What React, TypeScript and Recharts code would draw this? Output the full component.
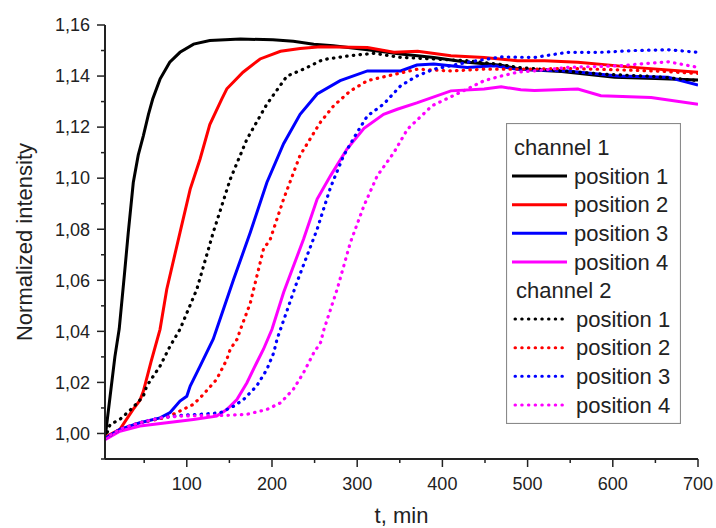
import { LineChart, Line, XAxis, YAxis, Legend } from 'recharts';

const FONT = '"Liberation Sans", Arial, sans-serif';
const INK = '#222';

// ticks (minor ones have no label)
const X_TICKS = [50, 100, 150, 200, 250, 300, 350, 400, 450, 500, 550, 600, 650, 700];
const Y_TICKS = [
  0.99, 1.0, 1.01, 1.02, 1.03, 1.04, 1.05, 1.06, 1.07, 1.08, 1.09,
  1.1, 1.11, 1.12, 1.13, 1.14, 1.15, 1.16,
];

// channel 1 (solid), [t in min, normalized intensity]
const ch1Pos1 = [
  [4, 0.998], [10, 1.0146], [15.6, 1.03], [20.7, 1.041], [27, 1.063], [31.3, 1.0787],
  [37.2, 1.0983], [43, 1.109], [49, 1.1166], [55, 1.125], [60, 1.131], [68.6, 1.1388],
  [80, 1.1454], [92, 1.1493], [108, 1.1525], [127, 1.1539], [163, 1.1545], [201, 1.1542],
  [225, 1.1536], [249, 1.1525], [272, 1.1519], [312, 1.1503], [351, 1.1486], [390, 1.1473],
  [429, 1.1454], [469, 1.1442], [492, 1.1427], [540, 1.1418], [602, 1.1395], [650, 1.139],
  [700, 1.1385],
];
const ch1Pos2 = [
  [4, 0.9985], [21.5, 1.0016], [37, 1.0094], [45, 1.013], [49, 1.0165], [58, 1.028],
  [68.6, 1.0408], [76.5, 1.0565], [92, 1.0787], [104, 1.0957], [115.6, 1.1075], [127, 1.121],
  [141, 1.131], [147, 1.135], [166, 1.1415], [186, 1.1467], [210, 1.1497], [233, 1.1508],
  [257, 1.1515], [312, 1.1512], [343, 1.1493], [371, 1.1497], [410, 1.148], [449, 1.1473],
  [488, 1.146], [520, 1.146], [559, 1.1454], [625, 1.1434], [700, 1.1415],
];
const ch1Pos3 = [
  [4, 0.998], [21.5, 1.0016], [45, 1.0042], [68.6, 1.0061], [80.4, 1.0082], [92, 1.0127],
  [100, 1.0146], [104, 1.0186], [115.6, 1.0264], [127, 1.0342], [131, 1.0369], [135, 1.0408],
  [155, 1.0604], [174.5, 1.0787], [194, 1.0983], [213.6, 1.1135], [233, 1.125], [253, 1.133],
  [280, 1.1382], [312, 1.142], [351, 1.142], [370, 1.1443], [390, 1.1447], [429, 1.1434],
  [461, 1.144], [488, 1.1427], [547, 1.142], [606, 1.14], [665, 1.1395], [700, 1.1365],
];
const ch1Pos4 = [
  [4, 0.9976], [21.5, 1.0009], [45, 1.0029], [76.5, 1.0042], [107.8, 1.0055], [135, 1.0068],
  [147, 1.0094], [158.8, 1.0133], [170.6, 1.0199], [182, 1.0277], [190, 1.033], [200, 1.0408],
  [213.6, 1.0552], [237, 1.0761], [253, 1.0918], [268.6, 1.1009], [288, 1.1114], [308, 1.1195],
  [331, 1.125], [347, 1.127], [370, 1.1295], [410, 1.1342], [449, 1.1349], [469, 1.1358],
  [492, 1.1346], [508, 1.1343], [559, 1.1349], [586, 1.1323], [645, 1.1316], [700, 1.129],
];

// channel 2 (dotted)
const ch2Pos1 = [
  [4, 0.998], [10, 1.0035], [21.5, 1.0055], [37, 1.0102], [49, 1.0146], [53, 1.0186],
  [68.6, 1.0264], [80.4, 1.0342], [92, 1.0408], [111.8, 1.0565], [131, 1.0787], [151, 1.0996],
  [170.6, 1.1153], [194, 1.129], [217.6, 1.14], [237, 1.1427], [257, 1.146], [265, 1.1467],
  [292, 1.148], [320, 1.1489], [351, 1.1473], [390, 1.1467], [429, 1.146], [469, 1.1445],
  [488, 1.1434], [540, 1.142], [586, 1.1408], [650, 1.1398], [700, 1.1382],
];
const ch2Pos2 = [
  [4, 0.998], [21.5, 1.0016], [45, 1.0042], [76.5, 1.0063], [92, 1.0088], [107.8, 1.0114],
  [118, 1.0148], [135, 1.0212], [147, 1.029], [151, 1.033], [159, 1.0369], [163, 1.0408],
  [174.5, 1.051], [190, 1.0722], [198, 1.0761], [213.6, 1.0918], [233, 1.109], [257, 1.122],
  [272.5, 1.1284], [292, 1.1342], [312, 1.1382], [335, 1.14], [370.6, 1.1427], [410, 1.142],
  [449, 1.1427], [500, 1.1427], [547, 1.143], [600, 1.1425], [650, 1.142], [700, 1.141],
];
const ch2Pos3 = [
  [4, 0.998], [21.5, 1.0016], [45, 1.0042], [68.6, 1.0061], [92, 1.0071], [115.6, 1.0075],
  [139, 1.0081], [155, 1.0107], [166.6, 1.0133], [174.5, 1.016], [182, 1.0186], [194, 1.0251],
  [202, 1.0316], [206, 1.037], [229, 1.059], [253, 1.08], [268.6, 1.0963], [284, 1.1088],
  [300, 1.118], [312, 1.1244], [331, 1.129], [351, 1.1362], [370, 1.14], [390, 1.1427],
  [429, 1.1454], [469, 1.1475], [508, 1.1473], [547, 1.1493], [586, 1.1493], [625, 1.15],
  [665, 1.1503], [700, 1.1493],
];
const ch2Pos4 = [
  [4, 0.998], [21.5, 1.0016], [45, 1.0042], [68.6, 1.0061], [92, 1.0068], [115.6, 1.007],
  [147, 1.0071], [170.6, 1.0075], [194, 1.0094], [210, 1.012], [225, 1.0173], [237, 1.0238],
  [249, 1.0316], [257, 1.0356], [261, 1.0408], [276.5, 1.0565], [292, 1.0748], [307.8, 1.0891],
  [323.5, 1.1009], [343, 1.11], [359, 1.1192], [388, 1.1284], [429, 1.1349], [449, 1.1382],
  [469, 1.14], [488, 1.1415], [508, 1.142], [547, 1.1434], [606, 1.144], [665, 1.1456],
  [700, 1.1434],
];

const toRows = (pts: number[][]) => pts.map(([t, v]) => ({ t, v }));

const SERIES = [
  { key: 'c1p1', label: 'position 1', color: '#000000', dotted: false, data: ch1Pos1 },
  { key: 'c1p2', label: 'position 2', color: '#ff0000', dotted: false, data: ch1Pos2 },
  { key: 'c1p3', label: 'position 3', color: '#0000ff', dotted: false, data: ch1Pos3 },
  { key: 'c1p4', label: 'position 4', color: '#ff00ff', dotted: false, data: ch1Pos4 },
  { key: 'c2p1', label: 'position 1', color: '#000000', dotted: true, data: ch2Pos1 },
  { key: 'c2p2', label: 'position 2', color: '#ff0000', dotted: true, data: ch2Pos2 },
  { key: 'c2p3', label: 'position 3', color: '#0000ff', dotted: true, data: ch2Pos3 },
  { key: 'c2p4', label: 'position 4', color: '#ff00ff', dotted: true, data: ch2Pos4 },
];

const DOT_DASH = '0.5 6.2';

const XTick = ({ x, y, payload }: any) => {
  const major = payload.value % 100 === 0;
  return (
    <g>
      <line x1={x} x2={x} y1={y} y2={y + (major ? 8 : 4)} stroke={INK} strokeWidth={1.5} />
      {major && (
        <text x={x} y={y + 31} textAnchor="middle" fontSize={18} fontFamily={FONT} fill={INK}>
          {payload.value}
        </text>
      )}
    </g>
  );
};

const YTick = ({ x, y, payload }: any) => {
  const major = Math.round(payload.value * 100) % 2 === 0;
  return (
    <g>
      <line x1={x} x2={x - (major ? 8 : 4)} y1={y} y2={y} stroke={INK} strokeWidth={1.5} />
      {major && (
        <text x={x - 15} y={y} dy="0.35em" textAnchor="end" fontSize={18} fontFamily={FONT} fill={INK}>
          {payload.value.toFixed(2).replace('.', ',')}
        </text>
      )}
    </g>
  );
};

const LegendBox = () => {
  const rowY = (i: number) => 24.5 + i * 28.6;
  const rows: any[] = [];
  let i = 0;
  ['channel 1', 'channel 2'].forEach((ch, c) => {
    rows.push(
      <text key={ch} x={c === 0 ? 8 : 10} y={rowY(i)} dy="0.35em" fontSize={22} fontFamily={FONT} fill={INK}>
        {ch}
      </text>,
    );
    i++;
    SERIES.filter((s) => s.dotted === (c === 1)).forEach((s) => {
      const yy = rowY(i);
      rows.push(
        <g key={s.key}>
          <line
            x1={s.dotted ? 9 : 6}
            x2={61}
            y1={yy}
            y2={yy}
            stroke={s.color}
            strokeWidth={3}
            strokeLinecap={s.dotted ? 'round' : 'butt'}
            strokeDasharray={s.dotted ? DOT_DASH : undefined}
          />
          <text x={s.dotted ? 70 : 68} y={yy} dy="0.35em" fontSize={22} fontFamily={FONT} fill={INK}>
            {s.label}
          </text>
        </g>,
      );
      i++;
    });
  });
  return (
    <svg width={175} height={301} style={{ display: 'block' }}>
      <rect x={0.5} y={0.5} width={174} height={300} fill="#fff" stroke="#8a8a8a" strokeWidth={1.2} />
      {rows}
    </svg>
  );
};

const YTitle = ({ viewBox }: any) => {
  const cx = viewBox.x - 21;
  const cy = viewBox.y + viewBox.height / 2;
  return (
    <text x={cx} y={cy} dy="0.35em" textAnchor="middle" transform={`rotate(-90 ${cx} ${cy})`}
      fontSize={22} fontFamily={FONT} fill={INK}>
      Normalized intensity
    </text>
  );
};

const XTitle = ({ viewBox }: any) => (
  <text x={viewBox.x + viewBox.width / 2} y={viewBox.y + 64} textAnchor="middle"
    fontSize={22} fontFamily={FONT} fill={INK}>
    t, min
  </text>
);

export default function App() {
  return (
    <div style={{ position: 'absolute', left: 0, top: 0, width: 716, height: 528, background: '#fff' }}>
      <LineChart width={716} height={528} margin={{ top: 25, right: 18, bottom: 39, left: 45 }}>
        <XAxis
          dataKey="t"
          type="number"
          domain={[4, 700]}
          ticks={X_TICKS}
          allowDataOverflow
          height={30}
          tickSize={0}
          tickMargin={0}
          tickLine={false}
          tick={<XTick />}
          axisLine={{ stroke: INK, strokeWidth: 2 }}
          label={XTitle}
        />
        <XAxis
          xAxisId="top"
          orientation="top"
          dataKey="t"
          type="number"
          domain={[4, 700]}
          height={0}
          tick={false}
          tickLine={false}
          axisLine={{ stroke: INK, strokeWidth: 2 }}
        />
        <YAxis
          type="number"
          domain={[0.99, 1.16]}
          ticks={Y_TICKS}
          allowDataOverflow
          width={60}
          tickSize={0}
          tickMargin={0}
          tickLine={false}
          tick={<YTick />}
          axisLine={{ stroke: INK, strokeWidth: 2 }}
          label={YTitle}
        />
        <YAxis
          yAxisId="right"
          orientation="right"
          type="number"
          domain={[0.99, 1.16]}
          width={0}
          tick={false}
          tickLine={false}
          axisLine={{ stroke: INK, strokeWidth: 2 }}
        />
        {SERIES.map((s) => (
          <Line
            key={s.key}
            data={toRows(s.data)}
            dataKey="v"
            type="linear"
            stroke={s.color}
            strokeWidth={s.dotted ? 3.2 : 3}
            strokeLinecap={s.dotted ? 'round' : 'butt'}
            strokeDasharray={s.dotted ? DOT_DASH : undefined}
            dot={false}
            activeDot={false}
            isAnimationActive={false}
          />
        ))}
        <Legend
          layout="vertical"
          align="center"
          verticalAlign="middle"
          content={LegendBox}
          wrapperStyle={{ left: 506, top: 123, width: 175, height: 301 }}
        />
      </LineChart>
    </div>
  );
}
